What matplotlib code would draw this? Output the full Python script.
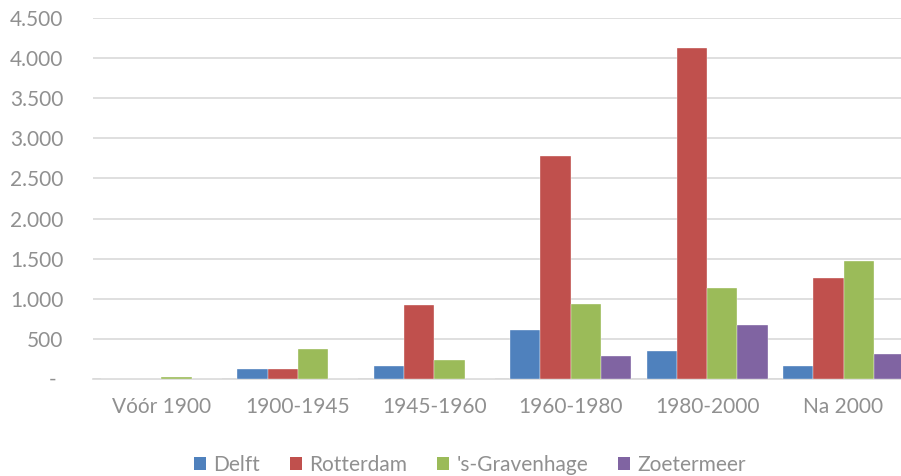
import numpy as np
import matplotlib
matplotlib.use('Agg')
import matplotlib.pyplot as plt
from matplotlib.patches import Patch
from matplotlib.ticker import FuncFormatter

periods = ['Vóór 1900', '1900-1945', '1945-1960', '1960-1980', '1980-2000', 'Na 2000']
cities = ['Delft', 'Rotterdam', "'s-Gravenhage", 'Zoetermeer']

delft = [0, 130, 170, 620, 350, 170]
rotterdam = [0, 130, 930, 2780, 4120, 1265]
den_haag = [25, 380, 245, 940, 1135, 1470]
zoetermeer = [0, 0, 0, 285, 670, 315]

colors = ['#4f81bd', '#c0504d', '#9bbb59', '#8064a2']
text_color = '#909090'
grid_color = '#d9d9d9'
fsize = 15

plt.rcParams['font.family'] = ['Lato', 'DejaVu Sans']

fig = plt.figure(figsize=(9.01, 4.76), dpi=100)
fig.patch.set_facecolor('white')
ax = fig.add_axes([0.1035, 0.2031, 0.9084, 0.7597])

x = np.arange(len(periods))
bar_w = 0.222
for i, (vals, color) in enumerate(zip([delft, rotterdam, den_haag, zoetermeer], colors)):
    ax.bar(x + (i - 1.5) * bar_w, vals, width=bar_w, color=color,
           edgecolor='white', linewidth=0.25, zorder=3)

ax.set_xlim(-0.5, len(periods) - 0.5)
ax.set_ylim(0, 4500)
ax.set_yticks(np.arange(0, 4501, 500))


def thousands(v, pos):
    if v == 0:
        return ''
    return f'{v:,.0f}'.replace(',', '.')


ax.yaxis.set_major_formatter(FuncFormatter(thousands))
# zero is shown as a dash, set further left like an accounting format
ax.annotate('-', xy=(0, 0), xycoords=('axes fraction', 'data'),
            xytext=(-29.5, 0), textcoords='offset points',
            ha='center', va='center', fontsize=fsize, color=text_color)

ax.set_xticks(x)
ax.set_xticklabels(periods)
ax.tick_params(axis='y', length=0, pad=21.5, labelsize=fsize, labelcolor=text_color)
ax.tick_params(axis='x', length=0, pad=12.5, labelsize=fsize, labelcolor=text_color)

ax.grid(axis='y', color=grid_color, linewidth=1.2, zorder=0)
ax.set_axisbelow(True)
for side in ['top', 'right', 'left']:
    ax.spines[side].set_visible(False)
ax.spines['bottom'].set_color(grid_color)
ax.spines['bottom'].set_linewidth(1.2)

handles = [Patch(facecolor=c, edgecolor='none') for c in colors]
fig.legend(handles, cities, loc='center', bbox_to_anchor=(470 / 901, 1 - 465 / 476),
           ncol=4, frameon=False, fontsize=fsize, labelcolor=text_color,
           handlelength=0.58, handleheight=0.58, handletextpad=0.33,
           columnspacing=1.45, borderaxespad=0, borderpad=0)

fig.savefig('out.png', dpi=100, facecolor='white')
